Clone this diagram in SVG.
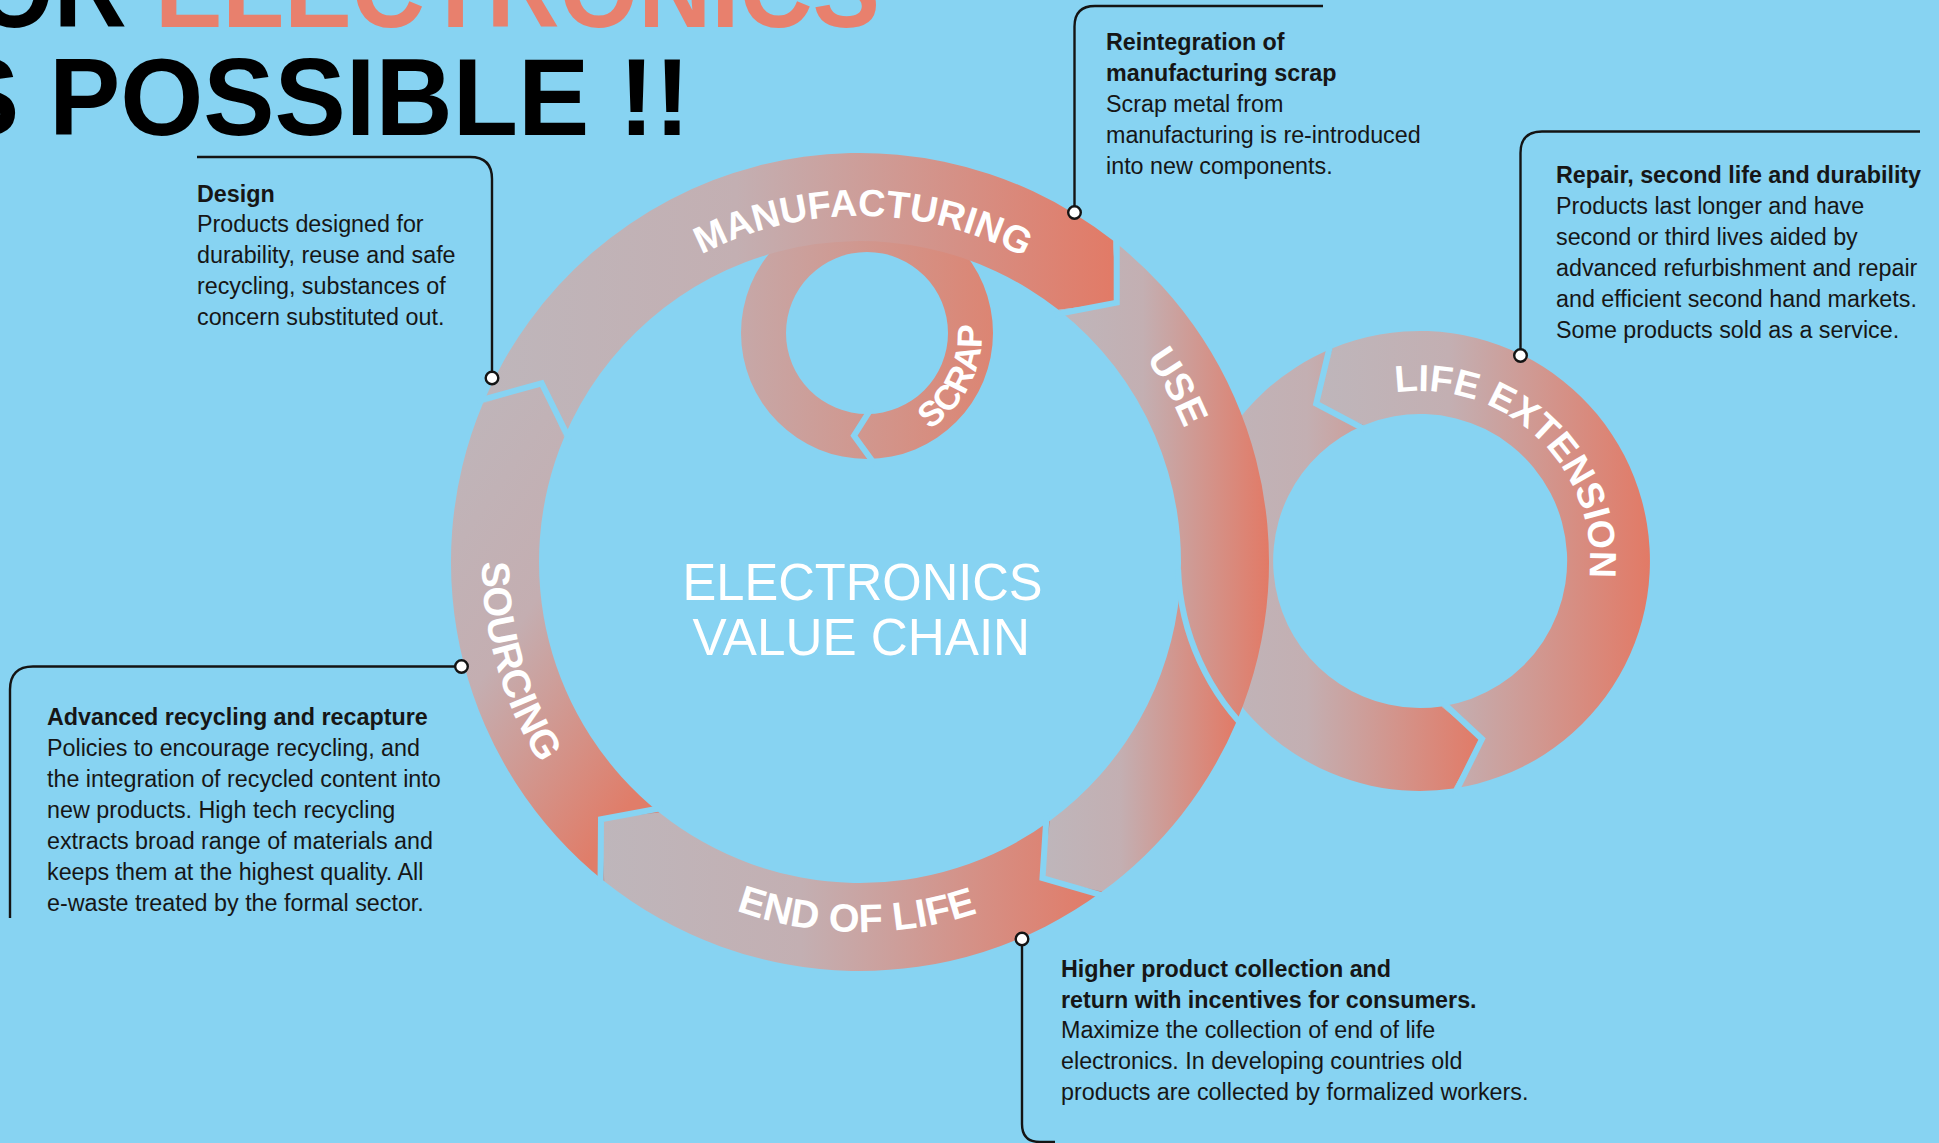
<svg xmlns="http://www.w3.org/2000/svg" width="1939" height="1143" viewBox="0 0 1939 1143">
<defs>
<linearGradient id="gh" x1="0" y1="0" x2="1" y2="0">
<stop offset="0" stop-color="#BEB6BB"/>
<stop offset="0.4" stop-color="#C3AFB2"/>
<stop offset="1" stop-color="#E27A66"/>
</linearGradient>
<linearGradient id="gsrc" x1="0" y1="0" x2="0.6" y2="1">
<stop offset="0" stop-color="#BEB6BB"/>
<stop offset="0.5" stop-color="#C4AEB1"/>
<stop offset="1" stop-color="#E07D69"/>
</linearGradient>
<linearGradient id="gscrap" x1="0" y1="0" x2="1" y2="0">
<stop offset="0" stop-color="#C6A8A8"/>
<stop offset="1" stop-color="#DC8573"/>
</linearGradient>
<path id="tpManuf" d="M561.9,386.4 A346,346 0 0 1 1161.2,391.6"/>
<path id="tpUse" d="M1041.3,261.4 A351,351 0 0 1 1210.9,568.7"/>
<path id="tpEol" d="M619.7,843.3 A370,370 0 0 0 1095.4,847.5"/>
<path id="tpSrc" d="M514.4,408.9 A378,378 0 0 0 649.2,875.7"/>
<path id="tpLife" d="M1307.8,433.3 A170,170 0 0 1 1552.7,667.3"/>
<path id="tpScrap" d="M893.8,444.8 A115,115 0 0 0 972.5,287.1"/>
</defs>
<style>
.gap{fill:none;stroke:#87D3F2;stroke-width:6;stroke-linejoin:miter}
.lbl{font-family:"Liberation Sans",Arial,Helvetica,sans-serif;font-weight:bold;fill:#ffffff}
.body{font-family:"Liberation Sans",Arial,Helvetica,sans-serif;font-size:23.3px;fill:#161616}
.hd{font-weight:bold}
.conn{fill:none;stroke:#141414;stroke-width:2.4}
.dot{fill:#ffffff;stroke:#141414;stroke-width:2.4}
.title{font-family:"Liberation Sans",Arial,Helvetica,sans-serif;font-weight:bold;font-size:109px;fill:#000}
.center{font-family:"Liberation Sans",Arial,Helvetica,sans-serif;font-size:52px;fill:#ffffff}
</style>
<rect x="0" y="0" width="1939" height="1143" fill="#87D3F2"/>

<g id="title">
<text class="title" x="-25" y="27" textLength="905" lengthAdjust="spacingAndGlyphs">OR <tspan fill="#E8806D">ELECTRONICS</tspan></text>
<text class="title" x="-52" y="135" textLength="742" lengthAdjust="spacingAndGlyphs">S POSSIBLE !!</text>
</g>

<g id="loop-return">
<path d="M1333.1,348.0 A230,230 0 0 0 1453.6,788.5 L1482.0,739.0 L1441.5,706.4 A147,147 0 0 1 1364.5,424.9 L1316.2,403.6 Z" fill="url(#gh)"/>
</g>
<g id="life-extension">
<path d="M1453.6,788.5 A230,230 0 1 0 1333.1,348.0 L1316.2,403.6 L1364.5,424.9 A147,147 0 1 1 1441.5,706.4 L1482.0,739.0 Z" fill="url(#gh)"/>
<polyline class="gap" points="1330.8,342.5 1316.2,403.6 1366.7,430.4"/>
<polyline class="gap" points="1454.5,794.5 1482.0,739.0 1440.6,700.5"/>
<text class="lbl" font-size="37.5"><textPath href="#tpLife" startOffset="50%" text-anchor="middle">LIFE EXTENSION</textPath></text>
</g>

<g id="scrap">
<path d="M993,333 A126,126 0 1 1 741,333 A126,126 0 1 1 993,333 Z M948,333 A81,81 0 1 0 786,333 A81,81 0 1 0 948,333 Z" fill="url(#gscrap)" fill-rule="evenodd"/>
<polyline class="gap" points="875.1,464.7 854.0,435.7 871.6,407.9"/>
<text class="lbl" font-size="35"><textPath href="#tpScrap" startOffset="50%" text-anchor="middle">SCRAP</textPath></text>
</g>

<g id="manufacturing">
<path d="M482.9,403.5 A409,409 0 0 1 1113.0,240.6 L1116.7,302.6 L1058.5,309.8 A321,321 0 0 0 564.1,437.6 L541.7,383.4 Z" fill="url(#gh)"/>
<text class="lbl" font-size="38"><textPath href="#tpManuf" startOffset="50%" text-anchor="middle">MANUFACTURING</textPath></text>
</g>

<g id="use">
<path d="M1113.0,240.6 A409,409 0 0 1 1237.1,720.4 A242,242 0 0 1 1179.7,590.9 A321,321 0 0 0 1058.5,309.8 L1116.7,302.6 Z" fill="url(#gh)"/>
<text class="lbl" font-size="39"><textPath href="#tpUse" startOffset="50%" text-anchor="middle">USE</textPath></text>
</g>

<g id="collection">
<path d="M1179.7,590.9 A321,321 0 0 1 1050.0,820.7 L1042.5,878.1 L1102.1,891.6 A409,409 0 0 0 1237.1,720.4 A242,242 0 0 1 1179.7,590.9 Z" fill="url(#gh)"/>
</g>

<g id="end-of-life">
<path d="M1102.1,891.6 L1042.5,878.1 L1050.0,820.7 A321,321 0 0 1 659.3,812.5 L601.0,819.2 L604.3,881.2 A409,409 0 0 0 1102.1,891.6 Z" fill="url(#gh)"/>
<text class="lbl" font-size="39.5"><textPath href="#tpEol" startOffset="50%" text-anchor="middle">END OF LIFE</textPath></text>
</g>

<g id="sourcing">
<path d="M604.3,881.2 L601.0,819.2 L659.3,812.5 A321,321 0 0 1 564.1,437.6 L541.7,383.4 L482.9,403.5 A409,409 0 0 0 604.3,881.2 Z" fill="url(#gsrc)"/>
<text class="lbl" font-size="39.5"><textPath href="#tpSrc" startOffset="50%" text-anchor="middle">SOURCING</textPath></text>
</g>

<g id="ring-gaps">
<polyline class="gap" points="477.4,401.2 541.7,383.4 569.6,439.9"/>
<polyline class="gap" points="1116.7,235.9 1116.7,302.6 1054.8,314.5"/>
<polyline class="gap" points="1105.7,896.4 1042.5,878.1 1046.5,815.9"/>
<polyline class="gap" points="600.5,885.9 601.0,819.2 663.1,807.8"/>
<path class="gap" d="M1255.0,738.0 A242,242 0 0 1 1178.1,569.4"/>
</g>

<g id="center-title">
<text class="center" x="682.6" y="600" textLength="360" lengthAdjust="spacingAndGlyphs">ELECTRONICS</text>
<text class="center" x="692.5" y="655.4" textLength="337.6" lengthAdjust="spacingAndGlyphs">VALUE CHAIN</text>
</g>

<g id="note-design">
<text class="body"><tspan class="hd" x="197" y="201.5">Design</tspan><tspan x="197" y="232.4">Products designed for</tspan><tspan x="197" y="263.3">durability, reuse and safe</tspan><tspan x="197" y="294.2">recycling, substances of</tspan><tspan x="197" y="325.1">concern substituted out.</tspan></text>
</g>
<g id="note-scrap">
<text class="body"><tspan class="hd" x="1106" y="50">Reintegration of</tspan><tspan class="hd" x="1106" y="81">manufacturing scrap</tspan><tspan x="1106" y="112">Scrap metal from</tspan><tspan x="1106" y="143">manufacturing is re-introduced</tspan><tspan x="1106" y="174">into new components.</tspan></text>
</g>
<g id="note-repair">
<text class="body"><tspan class="hd" x="1556" y="183">Repair, second life and durability</tspan><tspan x="1556" y="214">Products last longer and have</tspan><tspan x="1556" y="245">second or third lives aided by</tspan><tspan x="1556" y="276">advanced refurbishment and repair</tspan><tspan x="1556" y="307">and efficient second hand markets.</tspan><tspan x="1556" y="338">Some products sold as a service.</tspan></text>
</g>
<g id="note-recycling">
<text class="body"><tspan class="hd" x="47" y="725">Advanced recycling and recapture</tspan><tspan x="47" y="756">Policies to encourage recycling, and</tspan><tspan x="47" y="787">the integration of recycled content into</tspan><tspan x="47" y="818">new products. High tech recycling</tspan><tspan x="47" y="848.5">extracts broad range of materials and</tspan><tspan x="47" y="879.5">keeps them at the highest quality. All</tspan><tspan x="47" y="910.5">e-waste treated by the formal sector.</tspan></text>
</g>
<g id="note-collection">
<text class="body"><tspan class="hd" x="1061" y="977">Higher product collection and</tspan><tspan class="hd" x="1061" y="1007.5">return with incentives for consumers.</tspan><tspan x="1061" y="1038">Maximize the collection of end of life</tspan><tspan x="1061" y="1069">electronics. In developing countries old</tspan><tspan x="1061" y="1100">products are collected by formalized workers.</tspan></text>
</g>

<g id="connectors">
<path class="conn" d="M197,157 H470 Q492,157 492,179 V372"/>
<circle class="dot" cx="492" cy="378" r="6.3"/>
<path class="conn" d="M1323,6 H1095 Q1074.5,6 1074.5,26.5 V206"/>
<circle class="dot" cx="1074.5" cy="212.5" r="6.3"/>
<path class="conn" d="M1920,131.5 H1542 Q1520.5,131.5 1520.5,153 V349"/>
<circle class="dot" cx="1520.5" cy="355.5" r="6.3"/>
<path class="conn" d="M455,666.5 H33 Q10,666.5 10,689.5 V918"/>
<circle class="dot" cx="461.5" cy="666.5" r="6.3"/>
<path class="conn" d="M1022,945 V1124 Q1022,1142 1040,1142 H1055"/>
<circle class="dot" cx="1022" cy="939" r="6.3"/>
</g>
</svg>
